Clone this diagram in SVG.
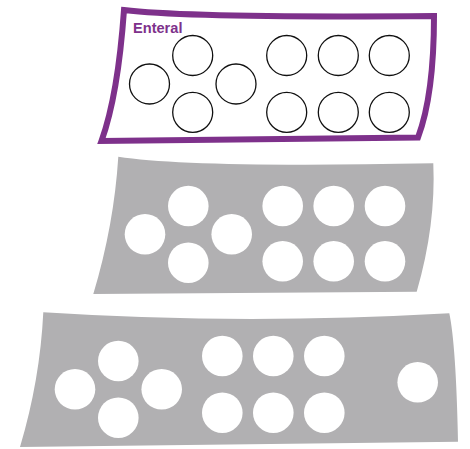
<svg xmlns="http://www.w3.org/2000/svg" width="470" height="449" viewBox="0 0 470 449">
  <style>
    .panel-gray { fill: #B1B0B2; stroke: none; }
    .panel-purple { fill: #FFFFFF; stroke: #7E318B; stroke-width: 6; stroke-linejoin: miter; }
    .hole { fill: #FFFFFF; stroke: none; }
    .ring { fill: #FFFFFF; stroke: #111111; stroke-width: 1.3; }
    .label { font-family: "Liberation Sans", Arial, sans-serif; font-weight: bold; font-size: 14.6px; fill: #7E318B; }
  </style>
  <rect width="470" height="449" fill="#FFFFFF"/>

  <g id="panel-enteral">
    <path class="panel-purple" d="M124,10 Q190,18 434,16 Q434,95 418,137.5 L101.5,141 Q118,95 124,10 Z"/>
    <text class="label" x="133" y="33.3">Enteral</text>
    <circle class="ring" cx="149.5" cy="84" r="20"/>
    <circle class="ring" cx="192.7" cy="55.5" r="20"/>
    <circle class="ring" cx="192.7" cy="112.3" r="20"/>
    <circle class="ring" cx="236" cy="84" r="20"/>
    <circle class="ring" cx="286.7" cy="55.5" r="20"/>
    <circle class="ring" cx="338.3" cy="55.5" r="20"/>
    <circle class="ring" cx="389.3" cy="55.5" r="20"/>
    <circle class="ring" cx="286.7" cy="112.3" r="20"/>
    <circle class="ring" cx="338.3" cy="112.3" r="20"/>
    <circle class="ring" cx="389.3" cy="112.3" r="20"/>
  </g>

  <g id="panel-middle">
    <path class="panel-gray" d="M118.3,156.7 Q190,168 433.3,163.3 Q436,225 416.7,291.7 L93.3,294 Q114,225 118.3,156.7 Z"/>
    <circle class="hole" cx="145" cy="234.3" r="20.3"/>
    <circle class="hole" cx="188.3" cy="206" r="20.3"/>
    <circle class="hole" cx="188.3" cy="262.7" r="20.3"/>
    <circle class="hole" cx="231.7" cy="234.3" r="20.3"/>
    <circle class="hole" cx="282.7" cy="206" r="20.3"/>
    <circle class="hole" cx="333.7" cy="206" r="20.3"/>
    <circle class="hole" cx="385" cy="206" r="20.3"/>
    <circle class="hole" cx="282.7" cy="261.3" r="20.3"/>
    <circle class="hole" cx="333.7" cy="261.3" r="20.3"/>
    <circle class="hole" cx="385" cy="261.3" r="20.3"/>
  </g>

  <g id="panel-bottom">
    <path class="panel-gray" d="M43.3,312.3 Q240,325 449.3,313.3 Q456,345 458,441.7 L20,447 Q40,380 43.3,312.3 Z"/>
    <circle class="hole" cx="75" cy="389.3" r="20.3"/>
    <circle class="hole" cx="118.3" cy="361" r="20.3"/>
    <circle class="hole" cx="118.3" cy="417.7" r="20.3"/>
    <circle class="hole" cx="161.7" cy="389.3" r="20.3"/>
    <circle class="hole" cx="222.3" cy="356" r="20.3"/>
    <circle class="hole" cx="273.3" cy="356" r="20.3"/>
    <circle class="hole" cx="324.3" cy="356" r="20.3"/>
    <circle class="hole" cx="222.3" cy="412.7" r="20.3"/>
    <circle class="hole" cx="273.3" cy="412.7" r="20.3"/>
    <circle class="hole" cx="324.3" cy="412.7" r="20.3"/>
    <circle class="hole" cx="417.7" cy="382.3" r="20.3"/>
  </g>
</svg>
